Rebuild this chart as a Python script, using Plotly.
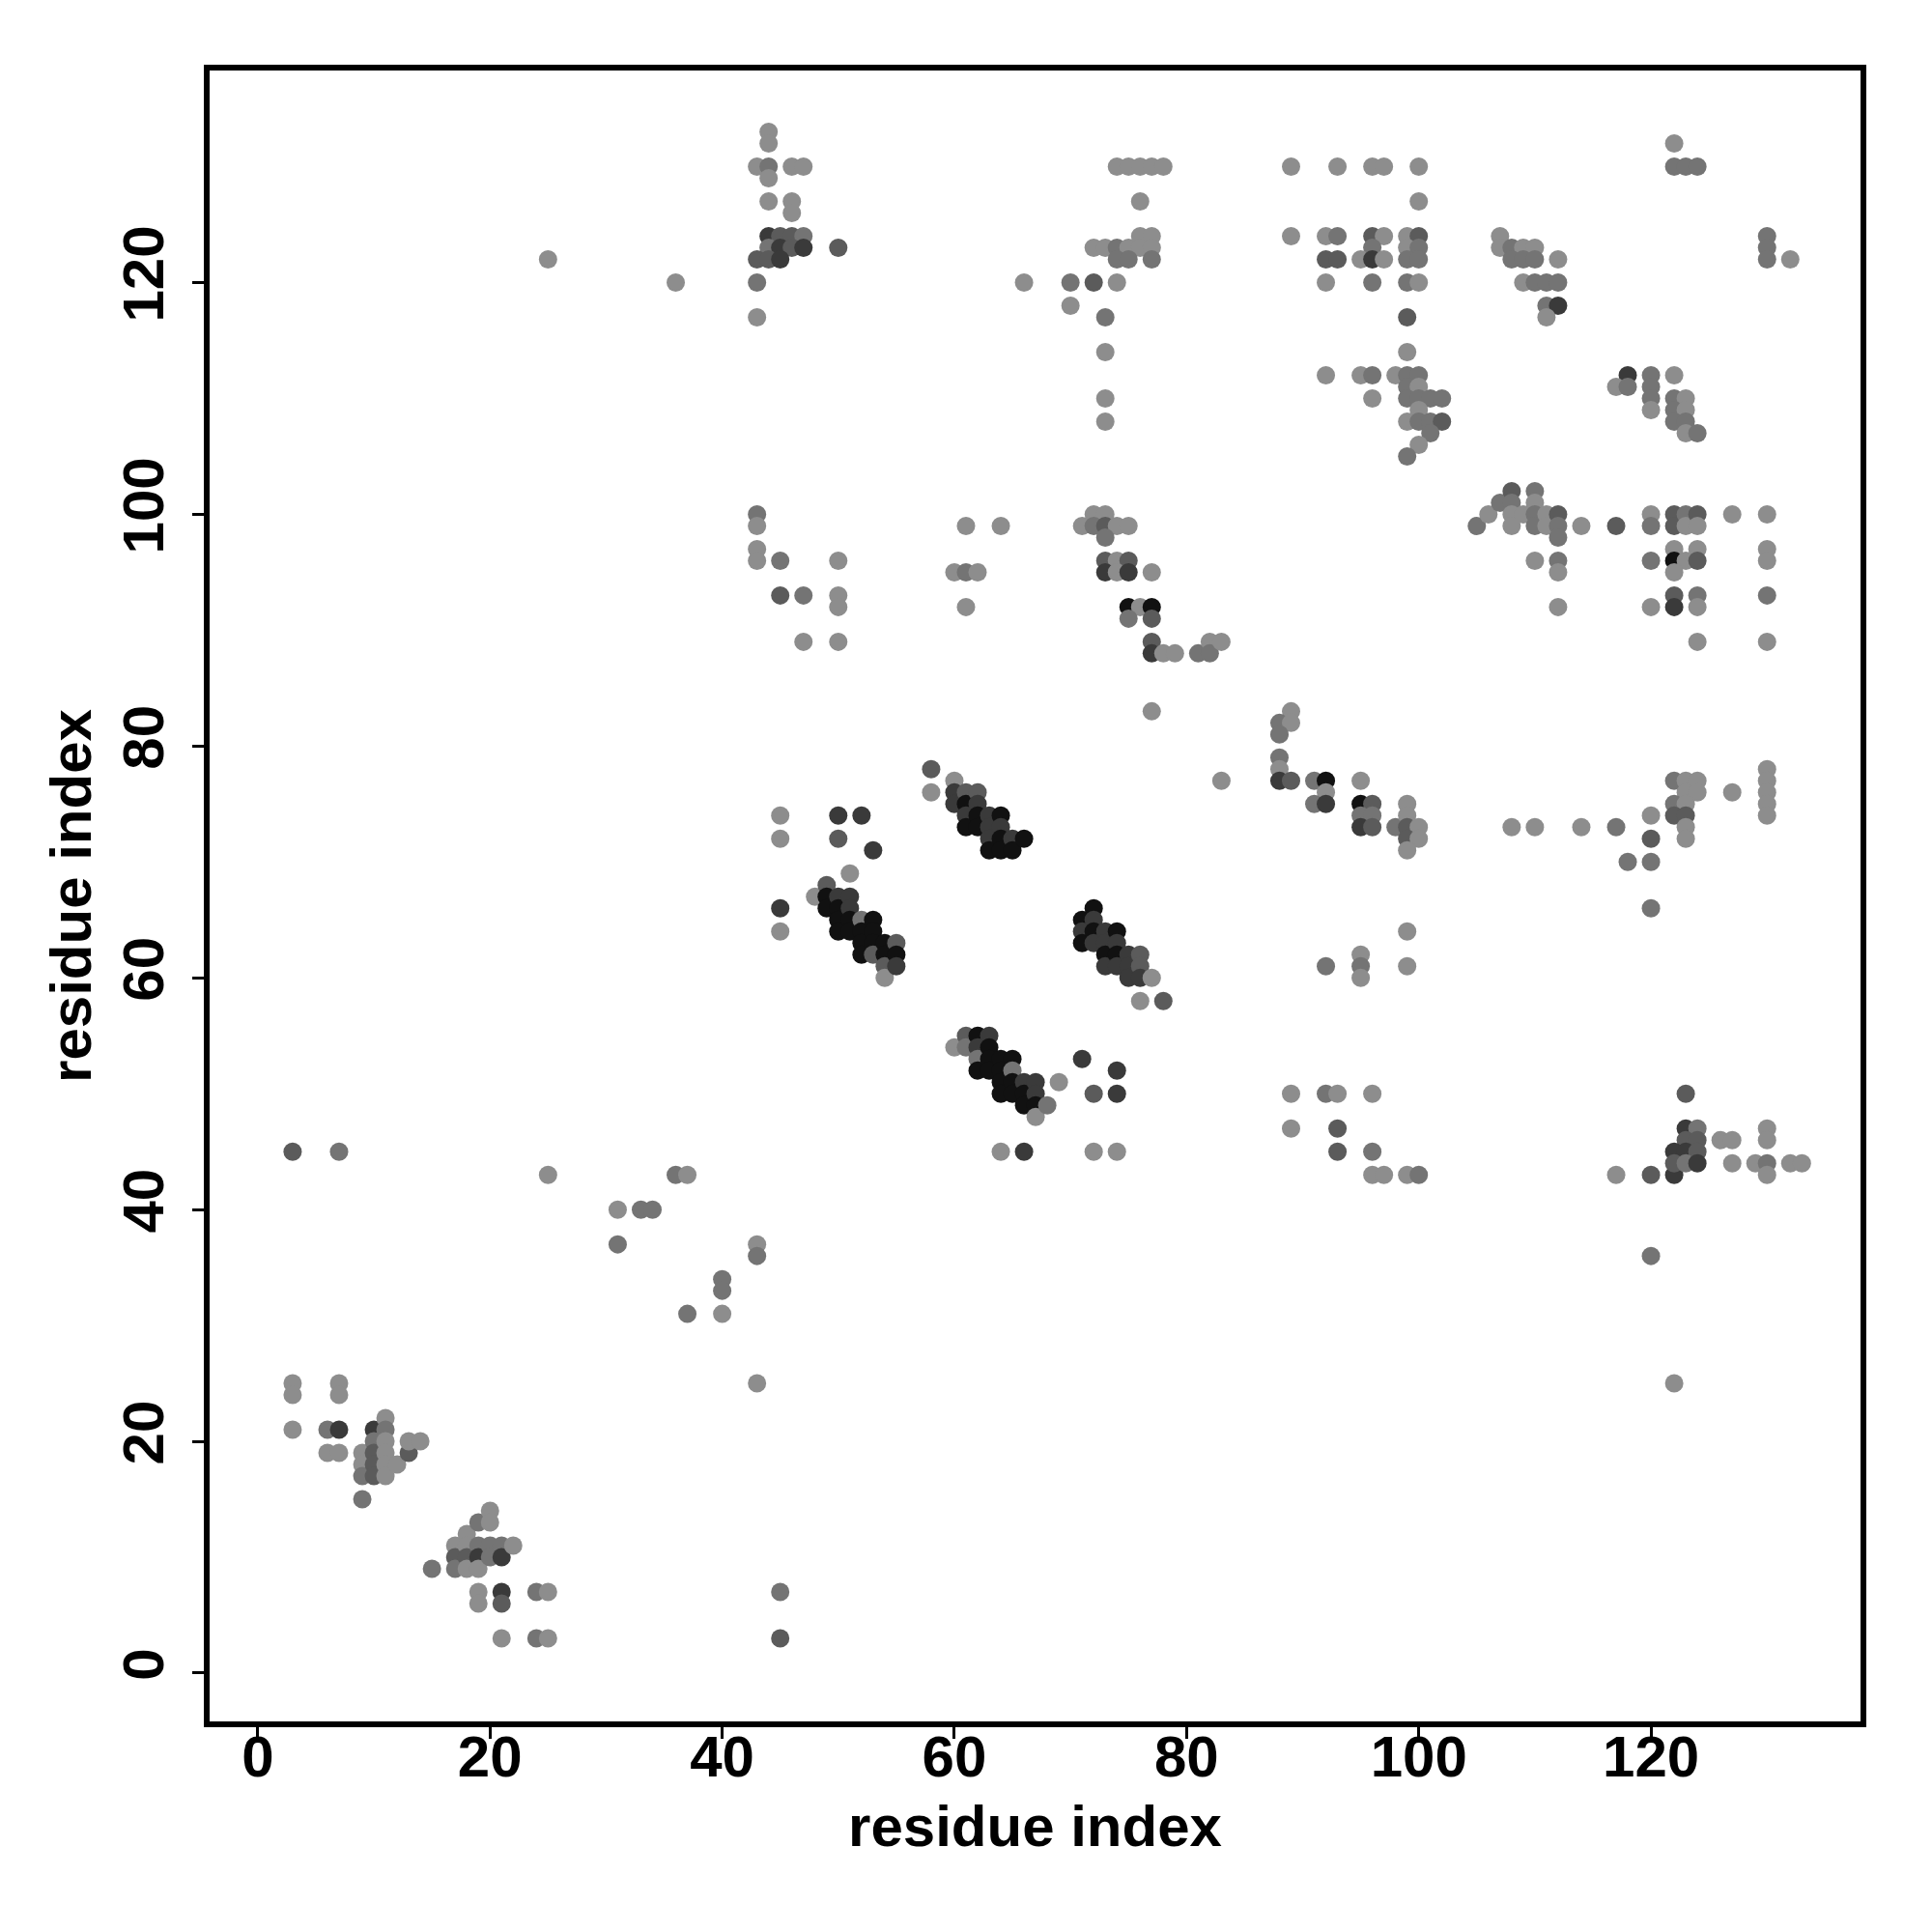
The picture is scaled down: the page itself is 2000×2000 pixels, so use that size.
import plotly.graph_objects as go

# shade classes (contact confidence)
L, M, DM, D, B = 0.15, 0.3, 0.45, 0.65, 0.9

contacts_lower_left = [
    (3,25,L),(3,24,L),(7,25,L),(7,24,L),(3,21,L),(6,21,M),(7,21,D),(6,19,L),(7,19,L),
    (9,19,L),(9,18,L),(9,17,M),(9,15,M),
    (10,21,D),(10,20,M),(10,19,DM),(10,18,DM),(10,17,DM),
    (11,22,L),(11,21,M),(11,20,L),(11,19,L),(11,18,L),(11,17,L),
    (12,18,L),(13,19,DM),(13,20,L),(14,20,L),
    (15,9,M),(17,11,L),(17,10,DM),(17,9,M),(18,12,L),(18,11,L),(18,10,DM),(18,9,L),
    (19,13,M),(19,11,M),(19,10,D),(19,9,L),(20,14,L),(20,13,L),(20,11,M),(20,10,M),
    (21,11,M),(21,10,D),(22,11,L),
    (19,7,L),(19,6,L),(21,7,D),(21,6,DM),(24,7,M),(25,7,L),(21,3,L),(24,3,M),(25,3,L),
]
contacts_sparse_left = [
    (3,45,DM),(7,45,M),(25,43,L),(36,43,M),(37,43,L),(31,40,L),(33,40,M),(34,40,M),
    (31,37,M),(43,37,L),(43,36,M),(40,34,M),(40,33,M),(37,31,M),(40,31,L),(43,25,L),
    (45,7,M),(45,3,DM),
]
contacts_strand_a = [
    (45,74,L),(45,72,L),(50,74,D),(52,74,D),(50,72,DM),(53,71,D),(51,69,L),(45,66,D),(45,64,L),
    (48,67,L),(49,68,DM),(49,67,B),(49,66,B),(50,67,D),(50,66,B),(50,65,B),(50,64,B),
    (51,67,D),(51,66,D),(51,65,B),(51,64,B),(52,65,M),(52,64,B),(52,63,B),(52,62,B),
    (53,65,B),(53,64,B),(53,63,B),(53,62,DM),(54,63,B),(54,62,B),(54,61,DM),(54,60,L),
    (55,63,DM),(55,62,B),(55,61,D),
]
contacts_strand_b = [
    (58,78,DM),(58,76,L),(60,77,L),(60,76,D),(60,75,D),(61,76,DM),(61,75,B),(61,74,D),(61,73,B),
    (62,76,DM),(62,75,D),(62,74,B),(62,73,B),(63,74,D),(63,73,D),(63,72,D),(63,71,B),
    (64,74,B),(64,73,D),(64,72,B),(64,71,B),(65,72,D),(65,71,B),(66,72,B),
]
contacts_strand_c = [
    (71,65,B),(71,64,D),(71,63,B),(72,66,B),(72,65,D),(72,64,B),(72,63,D),
    (73,64,D),(73,63,D),(73,62,B),(73,61,D),(74,64,B),(74,63,D),(74,62,B),(74,61,D),
    (75,62,D),(75,61,D),(75,60,D),(76,62,DM),(76,61,DM),(76,60,D),(77,60,L),(76,58,L),(78,58,DM),
]
contacts_strand_d = [
    (60,54,L),(61,55,DM),(61,54,M),(62,55,B),(62,54,D),(62,53,M),(62,52,B),
    (63,55,D),(63,54,B),(63,53,B),(63,52,B),(64,53,B),(64,52,B),(64,51,B),(64,50,B),
    (65,53,B),(65,52,M),(65,51,B),(65,50,B),(66,51,D),(66,50,B),(66,49,B),
    (67,51,D),(67,50,D),(67,49,B),(67,48,L),(68,49,M),(69,51,L),
    (71,53,D),(74,52,D),(72,50,DM),(74,50,D),(64,45,L),(66,45,D),(72,45,L),(74,45,L),
]
contacts_mid_upper = [
    (43,100,M),(43,99,L),(43,97,L),(43,96,L),(45,96,M),(50,96,L),(45,93,DM),(47,93,M),
    (50,93,L),(50,92,L),(47,89,L),(50,89,L),
    (61,99,L),(64,99,L),(60,95,L),(61,95,M),(62,95,L),(61,92,L),
    (71,99,L),(72,100,L),(73,100,L),(72,99,M),(73,99,DM),(74,99,L),(75,99,L),(73,98,M),
    (73,96,DM),(74,96,L),(75,96,DM),(73,95,D),(74,95,L),(75,95,D),(77,95,L),
    (75,92,B),(76,92,L),(77,92,B),(75,91,M),(77,91,DM),(77,89,DM),(77,88,D),(78,88,L),
    (79,88,L),(81,88,M),(82,89,L),(82,88,M),(83,89,L),(77,83,L),(83,77,L),
]
contacts_top_left = [
    (25,122,L),(36,120,L),(43,120,M),(43,117,L),(44,133,L),(44,132,L),(43,130,L),(44,130,M),
    (44,129,L),(46,130,L),(47,130,L),(44,127,L),(46,127,L),(46,126,L),
    (44,124,D),(45,124,DM),(46,124,DM),(47,124,M),(44,123,M),(45,123,D),(46,123,DM),(47,123,D),
    (43,122,DM),(44,122,DM),(45,122,D),(50,123,DM),
    (74,130,L),(75,130,L),(76,130,L),(77,130,L),(78,130,L),(76,127,L),(76,124,L),(77,124,L),
    (72,123,L),(73,123,L),(74,123,M),(75,123,L),(76,123,L),(77,123,L),(74,122,M),(75,122,M),(77,122,M),
    (66,120,L),(70,120,M),(72,120,DM),(74,120,L),(70,118,L),(73,117,M),(73,114,L),(73,110,L),(73,108,L),
]
contacts_top_right = [
    (89,130,L),(93,130,L),(96,130,L),(97,130,L),(100,130,L),(100,127,L),
    (89,124,L),(92,124,L),(93,124,M),(96,124,DM),(97,124,L),(99,124,L),(100,124,DM),
    (96,123,M),(99,123,L),(100,123,M),
    (92,122,DM),(93,122,DM),(95,122,L),(96,122,D),(97,122,L),(99,122,M),(100,122,M),
    (92,120,L),(96,120,M),(99,120,M),(100,120,L),(99,117,DM),(99,114,L),
    (92,112,L),(95,112,L),(96,112,M),(98,112,L),(99,112,M),(100,112,M),(99,111,M),(100,111,L),
    (96,110,L),(99,110,M),(100,110,M),(101,110,M),(102,110,M),(100,109,L),
    (99,108,L),(100,108,M),(101,108,M),(102,108,DM),(101,107,M),(100,106,L),(99,105,M),
    (107,124,L),(107,123,L),(108,123,M),(109,123,L),(110,123,L),(108,122,M),(109,122,M),
    (110,122,M),(112,122,L),
    (109,120,L),(110,120,M),(111,120,M),(112,120,M),(111,118,M),(112,118,D),(111,117,L),
    (122,132,L),(122,130,M),(123,130,M),(124,130,M),(130,124,M),(130,123,M),(130,122,M),(132,122,L),
    (118,112,D),(117,111,L),(118,111,M),(120,112,M),(120,111,M),(120,110,M),(120,109,L),(122,112,L),
    (122,110,M),(123,110,L),(122,109,M),(123,109,L),(122,108,M),(123,108,M),(123,107,L),(124,107,M),
]
contacts_right_100 = [
    (105,99,M),(106,100,L),(107,101,M),(108,102,DM),(108,101,M),(108,100,L),(108,99,L),(109,100,L),
    (110,102,M),(110,101,L),(110,100,M),(110,99,M),(111,100,L),(111,99,L),(112,100,DM),(112,99,M),
    (112,98,M),(114,99,L),(117,99,DM),(120,100,L),(120,99,M),(122,100,DM),(122,99,DM),(123,100,M),
    (123,99,L),(124,100,DM),(124,99,L),(127,100,L),(130,100,L),(110,96,L),(112,96,M),(112,95,L),
    (120,96,M),(122,97,L),(122,96,B),(123,96,L),(124,97,L),(124,96,DM),(122,95,L),
    (130,97,L),(130,96,L),(112,92,L),(120,92,L),(122,93,DM),(122,92,D),(124,93,M),(124,92,L),
    (130,93,M),(124,89,L),(130,89,L),
]
contacts_right_75 = [
    (89,83,L),(88,82,M),(89,82,L),(88,81,M),(88,79,M),(88,78,L),(88,77,D),(89,77,DM),
    (91,77,M),(92,77,B),(92,76,L),(91,75,M),(92,75,D),(95,77,L),
    (95,75,B),(96,75,DM),(95,74,M),(96,74,M),(95,73,D),(96,73,DM),
    (98,73,M),(99,75,L),(99,74,L),(99,73,DM),(100,73,L),(99,72,DM),(100,72,L),(99,71,L),
    (108,73,L),(110,73,L),(114,73,L),(117,73,M),(120,74,L),(120,72,DM),(118,70,M),(120,70,M),
    (120,66,M),
    (122,77,M),(123,77,L),(124,77,L),(123,76,L),(124,76,L),(122,75,M),(123,75,L),(122,74,DM),
    (123,74,DM),(123,73,L),(123,72,L),
    (127,76,L),(130,78,L),(130,77,L),(130,76,L),(130,75,L),(130,74,L),
    (99,64,L),(92,61,M),(95,62,L),(95,61,M),(95,60,L),(99,61,L),
]
contacts_right_45 = [
    (89,50,L),(92,50,M),(93,50,L),(96,50,L),(89,47,L),(93,47,DM),(93,45,DM),(96,45,M),
    (96,43,L),(97,43,L),(99,43,L),(100,43,M),(117,43,L),(120,43,DM),(122,43,D),
    (123,50,DM),(123,47,D),(124,47,M),(123,46,DM),(124,46,DM),(122,45,D),(123,45,D),(124,45,DM),
    (122,44,DM),(123,44,M),(124,44,D),
    (126,46,L),(127,46,L),(127,44,L),(129,44,L),(130,44,M),(130,47,L),(130,46,L),(130,43,L),
    (132,44,L),(133,44,L),(120,36,M),(122,25,L),
]

axis_ticks = [0, 20, 40, 60, 80, 100, 120]

groups = [contacts_lower_left, contacts_sparse_left, contacts_strand_a, contacts_strand_b,
          contacts_strand_c, contacts_strand_d, contacts_mid_upper, contacts_top_left,
          contacts_top_right, contacts_right_100, contacts_right_75, contacts_right_45]
pts = [p for g in groups for p in g]
xs = [p[0] for p in pts]
ys = [p[1] for p in pts]
cs = [p[2] for p in pts]

fig = go.Figure(go.Scatter(
    x=xs, y=ys, mode="markers",
    marker=dict(size=19, color=cs, cmin=0, cmax=1,
                colorscale=[[0, "rgb(166,166,166)"], [1, "rgb(0,0,0)"]],
                line=dict(width=0)),
    hoverinfo="x+y",
))

font_family = "Liberation Sans, Arial, sans-serif"
axis_common = dict(
    showgrid=False, zeroline=False, showline=True, mirror=True,
    linecolor="black", linewidth=6, ticks="outside", ticklen=12, tickwidth=3,
    tickcolor="black", tickvals=axis_ticks,
    tickfont=dict(family=font_family, size=60, color="black", weight="bold"),
)
fig.update_layout(
    width=2000, height=2000,
    margin=dict(l=209, r=82, t=65, b=226),
    paper_bgcolor="white", plot_bgcolor="white",
    showlegend=False,
    xaxis=dict(range=[-4.15, 138.05],
               title=dict(text="residue index", standoff=20,
                          font=dict(family=font_family, size=60, color="black", weight="bold")),
               ticklabelstandoff=-33, **axis_common),
    yaxis=dict(range=[-4.17, 138.3], tickangle=-90,
               title=dict(text="residue index", standoff=3,
                          font=dict(family=font_family, size=60, color="black", weight="bold")),
               ticklabelstandoff=6, **axis_common),
)
fig.write_html("out.html")
